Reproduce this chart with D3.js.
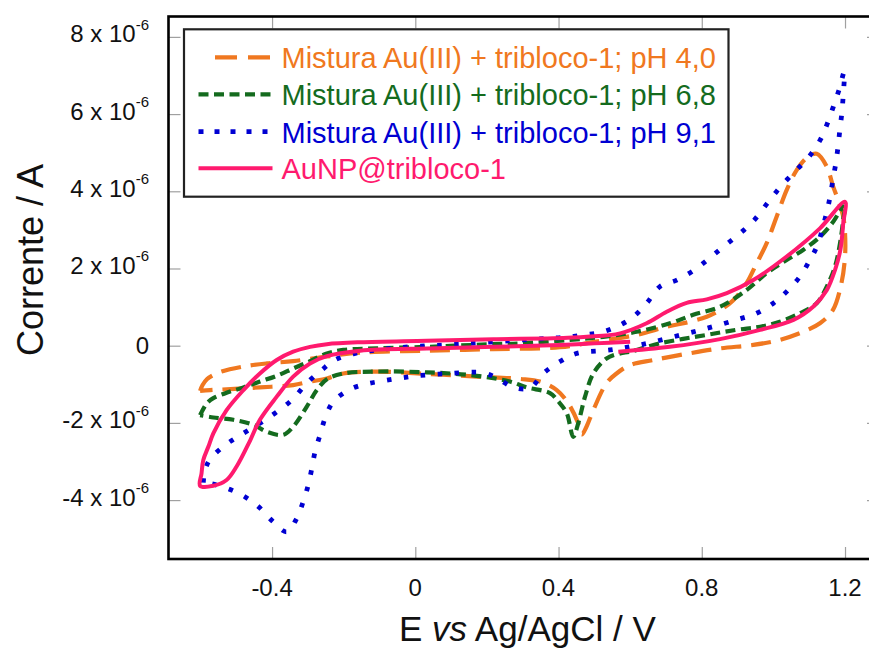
<!DOCTYPE html>
<html>
<head>
<meta charset="utf-8">
<script src="https://cdn.jsdelivr.net/npm/d3@7"></script>
<style>
  html, body { margin: 0; padding: 0; background: #ffffff; }
  svg { display: block; font-family: "Liberation Sans", Arial, sans-serif; }
</style>
</head>
<body>
<svg id="chart" width="869" height="650"></svg>
<script>
// ---------- data (E in V vs Ag/AgCl, current in units of 10^-6 A) ----------
const xTicks = [-0.4, 0, 0.4, 0.8, 1.2];
const xTickLabels = ["-0.4", "0", "0.4", "0.8", "1.2"];
const yTicks = [8, 6, 4, 2, 0, -2, -4];
const yTickMantissa = ["8", "6", "4", "2", "0", "-2", "-4"];
const yTickExponent = "-6";

const seriesNames = [
  "Mistura Au(III) + tribloco-1; pH 4,0",
  "Mistura Au(III) + tribloco-1; pH 6,8",
  "Mistura Au(III) + tribloco-1; pH 9,1",
  "AuNP@tribloco-1"
];

const pH40 = [
  [-0.601,-1.17],[-0.594,-1.02],[-0.582,-0.87],[-0.564,-0.76],[-0.541,-0.67],[-0.480,-0.54],
  [-0.415,-0.46],[-0.341,-0.40],[-0.247,-0.28],[-0.154,-0.18],[0.032,-0.13],[0.218,-0.09],
  [0.404,-0.04],[0.500,0.10],[0.618,0.28],[0.702,0.49],[0.767,0.62],[0.814,0.75],[0.851,0.92],
  [0.888,1.18],[0.925,1.62],[0.953,2.13],[0.981,2.65],[1.009,3.34],[1.037,4.03],[1.065,4.55],
  [1.095,4.88],[1.121,4.97],[1.149,4.64],[1.167,4.12],[1.181,3.77],[1.195,3.34],[1.200,2.92],
  [1.200,2.31],[1.190,1.62],[1.166,0.92],[1.130,0.58],[1.083,0.36],[1.018,0.15],[0.944,0.02],
  [0.851,-0.07],[0.758,-0.21],[0.665,-0.37],[0.600,-0.50],[0.562,-0.72],[0.534,-0.97],
  [0.497,-1.67],[0.478,-2.10],[0.465,-2.30],[0.455,-2.01],[0.427,-1.49],[0.395,-1.15],
  [0.348,-0.93],[0.292,-0.86],[0.171,-0.80],[0.032,-0.73],[-0.108,-0.67],[-0.201,-0.72],
  [-0.247,-0.85],[-0.294,-0.93],[-0.341,-1.02],[-0.434,-1.08],[-0.527,-1.13],[-0.573,-1.15],
  [-0.601,-1.17]
];

const pH68 = [
  [-0.601,-1.80],[-0.582,-1.49],[-0.564,-1.36],[-0.527,-1.22],[-0.480,-1.08],[-0.434,-0.93],
  [-0.387,-0.78],[-0.341,-0.59],[-0.294,-0.40],[-0.247,-0.20],[-0.201,-0.11],[-0.108,-0.07],
  [0.032,-0.03],[0.218,0.04],[0.292,0.06],[0.432,0.15],[0.525,0.23],[0.618,0.36],[0.711,0.58],
  [0.776,0.80],[0.851,1.01],[0.925,1.44],[0.981,1.88],[1.037,2.22],[1.083,2.48],[1.130,2.82],
  [1.167,3.21],[1.200,3.69],
  [1.195,3.26],[1.186,2.65],[1.172,2.05],[1.149,1.53],[1.121,1.10],[1.074,0.84],[1.018,0.62],
  [0.963,0.49],[0.897,0.41],[0.814,0.28],[0.683,0.06],[0.600,-0.155],[0.572,-0.20],[0.534,-0.33],
  [0.497,-0.72],[0.474,-1.32],[0.455,-2.01],[0.441,-2.36],[0.423,-1.75],[0.400,-1.45],
  [0.376,-1.23],[0.311,-1.08],[0.264,-0.93],[0.171,-0.78],[0.032,-0.69],[-0.108,-0.67],
  [-0.201,-0.72],[-0.247,-0.87],[-0.275,-1.15],[-0.303,-1.58],[-0.341,-2.10],[-0.369,-2.31],
  [-0.415,-2.23],[-0.452,-2.05],[-0.508,-1.92],[-0.564,-1.86],[-0.601,-1.80]
];

const pH91 = [
  [-0.592,-3.55],[-0.588,-3.25],[-0.573,-2.94],[-0.527,-2.55],[-0.480,-2.27],[-0.434,-2.01],
  [-0.392,-1.75],[-0.345,-1.41],[-0.303,-0.97],[-0.261,-0.63],[-0.225,-0.37],[-0.173,-0.21],
  [-0.108,-0.11],[-0.015,-0.03],[0.125,0.04],[0.264,0.13],[0.330,0.17],[0.376,0.19],[0.423,0.22],
  [0.469,0.28],[0.516,0.34],[0.562,0.49],[0.609,0.75],[0.646,1.10],[0.683,1.53],[0.730,1.70],
  [0.776,1.94],[0.818,2.24],[0.860,2.56],[0.907,2.91],[0.947,3.26],[0.984,3.70],[1.020,4.12],
  [1.062,4.53],[1.100,4.90],[1.132,5.35],[1.150,5.74],[1.167,6.18],[1.183,6.62],[1.198,7.10],
  [1.195,6.49],[1.191,6.02],[1.186,5.63],[1.181,5.20],[1.175,4.77],[1.167,4.34],[1.160,3.95],
  [1.150,3.50],[1.123,2.61],[1.102,2.22],[1.074,1.79],[1.037,1.40],[1.000,1.10],[0.953,0.84],
  [0.897,0.67],[0.814,0.45],[0.721,0.23],[0.628,0.02],[0.544,-0.11],[0.451,-0.20],[0.404,-0.41],
  [0.357,-0.72],[0.320,-1.10],[0.274,-1.08],[0.230,-0.85],[0.190,-0.70],[0.097,-0.72],
  [0.004,-0.78],[-0.043,-0.84],[-0.089,-0.91],[-0.136,-0.99],[-0.182,-1.13],[-0.229,-1.45],
  [-0.252,-1.88],[-0.266,-2.31],[-0.280,-2.75],[-0.289,-3.18],[-0.299,-3.61],[-0.313,-4.04],
  [-0.331,-4.47],[-0.359,-4.82],[-0.397,-4.56],[-0.438,-4.17],[-0.480,-3.89],[-0.527,-3.69],
  [-0.573,-3.57],[-0.592,-3.55]
];

const AuNP = [
  [0.600,0.10],[0.500,0.06],[0.404,0.02],[0.218,-0.03],[0.032,-0.07],[-0.154,-0.13],
  [-0.247,-0.27],[-0.294,-0.46],[-0.341,-0.80],[-0.387,-1.32],[-0.434,-1.92],[-0.461,-2.45],
  [-0.499,-3.13],[-0.527,-3.48],[-0.564,-3.63],[-0.601,-3.63],[-0.597,-3.31],[-0.592,-2.96],
  [-0.578,-2.62],[-0.564,-2.27],[-0.527,-1.67],[-0.480,-1.15],[-0.434,-0.72],[-0.387,-0.37],
  [-0.341,-0.155],[-0.294,-0.03],[-0.247,0.04],[-0.154,0.09],[0.032,0.13],[0.218,0.17],
  [0.385,0.19],[0.479,0.23],[0.572,0.32],[0.646,0.58],[0.702,0.88],[0.758,1.11],[0.814,1.20],
  [0.870,1.36],[0.944,1.70],[1.037,2.31],[1.130,3.04],[1.200,3.73],
  [1.195,3.17],[1.187,2.48],[1.172,1.96],[1.149,1.44],[1.111,1.01],[1.056,0.67],[0.963,0.41],
  [0.851,0.17],[0.711,-0.03],[0.567,-0.155]
];

// ---------- styles ----------
const colors = ["#f07820", "#146b1e", "#0000d2", "#ff1a6e"];
const dashes = ["20,10", "10,5.5", "4.5,12.5", null];
const widths = [4.2, 4.2, 4.8, 4];
const allSeries = [pH40, pH68, pH91, AuNP];

// ---------- layout ----------
const L = 168.5, R = 879, T = 16.5, B = 559;
const svg = d3.select("#chart");

const x = d3.scaleLinear().domain([-0.6892, 1.2949]).range([L, R]);
const y = d3.scaleLinear().domain([-5.526, 8.528]).range([B, T]);

// ticks (inward, grey)
const tickLen = 12;
const axG = svg.append("g");
axG.append("g").attr("transform", `translate(0,${B})`)
  .call(d3.axisBottom(x).tickValues(xTicks).tickSize(-tickLen).tickFormat(""));
axG.append("g").attr("transform", `translate(0,${T})`)
  .call(d3.axisTop(x).tickValues(xTicks).tickSize(-tickLen).tickFormat(""));
axG.append("g").attr("transform", `translate(${L},0)`)
  .call(d3.axisLeft(y).tickValues(yTicks).tickSize(-tickLen).tickFormat(""));
axG.append("g").attr("transform", `translate(${R},0)`)
  .call(d3.axisRight(y).tickValues(yTicks).tickSize(-tickLen).tickFormat(""));
axG.selectAll(".domain").remove();
axG.selectAll(".tick line").attr("stroke", "#a0a0a0").attr("stroke-width", 1.2);

// curves
const line = d3.line().x(d => x(d[0])).y(d => y(d[1])).curve(d3.curveCatmullRom.alpha(0.5));
svg.append("clipPath").attr("id", "plotclip")
  .append("rect").attr("x", L).attr("y", T).attr("width", R - L).attr("height", B - T);
const curveG = svg.append("g").attr("clip-path", "url(#plotclip)");
allSeries.forEach((s, i) => {
  curveG.append("path")
    .attr("d", line(s))
    .attr("fill", "none")
    .attr("stroke", colors[i])
    .attr("stroke-width", widths[i])
    .attr("stroke-dasharray", dashes[i])
    .attr("stroke-linejoin", "round")
    .attr("stroke-linecap", "butt");
});

// frame
svg.append("rect").attr("x", L).attr("y", T).attr("width", R - L).attr("height", B - T)
  .attr("fill", "none").attr("stroke", "#000").attr("stroke-width", 2.6);

// x tick labels
svg.append("g").selectAll("text").data(xTicks).join("text")
  .attr("x", d => x(d)).attr("y", 596)
  .attr("text-anchor", "middle").attr("font-size", 24).attr("fill", "#111")
  .text((d, i) => xTickLabels[i]);

// y tick labels
const yl = svg.append("g");
yTicks.forEach((d, i) => {
  const t = yl.append("text").attr("x", 149).attr("text-anchor", "end")
    .attr("font-size", 24).attr("fill", "#111");
  if (d === 0) {
    t.attr("y", y(d) + 8.5).text(yTickMantissa[i]);
  } else {
    t.attr("y", y(d) + 5.5);
    t.append("tspan").text(yTickMantissa[i] + " x 10");
    t.append("tspan").attr("font-size", 15).attr("dy", -12.5).text(yTickExponent);
  }
});

// axis titles
svg.append("text")
  .attr("transform", `translate(43,260) rotate(-90)`)
  .attr("text-anchor", "middle").attr("font-size", 36).attr("fill", "#111")
  .text("Corrente / A");
const xt = svg.append("text").attr("x", 399).attr("y", 641)
  .attr("font-size", 35).attr("fill", "#111");
xt.append("tspan").text("E ");
xt.append("tspan").attr("font-style", "italic").text("vs");
xt.append("tspan").text(" Ag/AgCl / V");

// legend
const lg = svg.append("g");
lg.append("rect").attr("x", 184).attr("y", 29.3).attr("width", 544.5).attr("height", 167.4)
  .attr("fill", "#fff").attr("stroke", "#222").attr("stroke-width", 2.2);
const rowY = [57.3, 94.3, 131.7, 168.3];
const legDash = ["22,11", "10,5.5", "5,11", null];
seriesNames.forEach((name, i) => {
  const x0 = i === 0 ? 215 : 198.5;
  lg.append("line").attr("x1", x0).attr("x2", 272.5).attr("y1", rowY[i]).attr("y2", rowY[i])
    .attr("stroke", colors[i]).attr("stroke-width", widths[i])
    .attr("stroke-dasharray", legDash[i]);
  lg.append("text").attr("x", 281.5).attr("y", rowY[i] + 11)
    .attr("font-size", 29).attr("fill", colors[i]).text(name);
});
</script>
</body>
</html>
